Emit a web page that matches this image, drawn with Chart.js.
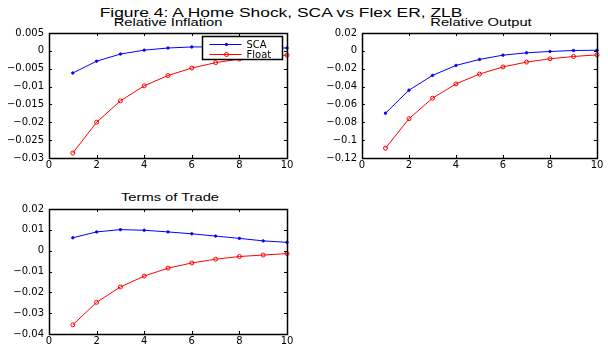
<!DOCTYPE html>
<html lang="en">
<head>
<meta charset="UTF-8">
<title>Figure 4: A Home Shock, SCA vs Flex ER, ZLB</title>
<script src="https://cdn.jsdelivr.net/npm/chart.js"></script>
<style>
  body { margin:0; background:#fff; width:608px; height:347px; position:relative; overflow:hidden;
         font-family:"Liberation Sans", Arial, sans-serif; color:#000; }
  .ttl { position:absolute; width:400px; text-align:center; white-space:nowrap; transform-origin:50% 50%; }
  canvas { position:absolute; }
</style>
</head>
<body>
<div class="ttl" style="left:81px; top:6.5px; font-size:12px; line-height:12px; transform:scaleX(1.45)">Figure 4: A Home Shock, SCA vs Flex ER, ZLB</div>
<div class="ttl" style="left:-32px; top:17.8px; font-size:10px; line-height:10px; transform:scaleX(1.47)">Relative Inflation</div>
<div class="ttl" style="left:281px; top:17.8px; font-size:10px; line-height:10px; transform:scaleX(1.47)">Relative Output</div>
<div class="ttl" style="left:-30px; top:193.2px; font-size:10px; line-height:10px; transform:scaleX(1.47)">Terms of Trade</div>

<canvas id="c1"></canvas>
<canvas id="c2"></canvas>
<canvas id="c3"></canvas>

<script>
// horizon (quarters)
var periods = [1, 2, 3, 4, 5, 6, 7, 8, 9, 10];
var xTicks = [0, 2, 4, 6, 8, 10];
var seriesNames = ['SCA', 'Float'];

// Relative Inflation
var inflSCA   = [-0.0062, -0.0029, -0.0009, 0.0002, 0.0008, 0.0011, 0.0011, 0.0010, 0.0009, 0.0008];
var inflFloat = [-0.0286, -0.0200, -0.0140, -0.0098, -0.0069, -0.0048, -0.0033, -0.0023, -0.0016, -0.0012];
var inflTicks = [0.005, 0, -0.005, -0.01, -0.015, -0.02, -0.025, -0.03];

// Relative Output
var outSCA   = [-0.0698, -0.0440, -0.0275, -0.0163, -0.0096, -0.0048, -0.0022, -0.0007, 0.0004, 0.0007];
var outFloat = [-0.109, -0.076, -0.053, -0.037, -0.026, -0.018, -0.0126, -0.0089, -0.0063, -0.0045];
var outTicks = [0.02, 0, -0.02, -0.04, -0.06, -0.08, -0.1, -0.12];

// Terms of Trade
var totSCA   = [0.0062, 0.0090, 0.0101, 0.0098, 0.0090, 0.0081, 0.0070, 0.0059, 0.0047, 0.0040];
var totFloat = [-0.0356, -0.0248, -0.0174, -0.0122, -0.0084, -0.0059, -0.0041, -0.0028, -0.0021, -0.0014];
var totTicks = [0.02, 0.01, 0, -0.01, -0.02, -0.03, -0.04];

var tickFont = { family: 'DejaVu Sans', size: 10 };

function fmt(v) {
    if (v === 0) return '0';
    return (v < 0 ? '\u2212' : '') + String(Math.abs(v));
}

// matlab style box with inward ticks, plus legend inside the axes
var matlabAxes = {
    id: 'matlabAxes',
    afterDraw: function (chart, args, opts) {
        var ctx = chart.ctx, a = chart.chartArea;
        var x = chart.scales.x, y = chart.scales.y;
        ctx.save();
        ctx.strokeStyle = '#000';
        ctx.lineWidth = 1;
        ctx.beginPath();
        x.ticks.forEach(function (t) {
            var px = Math.round(x.getPixelForValue(t.value)) + 0.5;
            ctx.moveTo(px, a.bottom); ctx.lineTo(px, a.bottom - 3);
            ctx.moveTo(px, a.top); ctx.lineTo(px, a.top + 3);
        });
        y.ticks.forEach(function (t) {
            var py = Math.round(y.getPixelForValue(t.value)) + 0.5;
            ctx.moveTo(a.left, py); ctx.lineTo(a.left + 3, py);
            ctx.moveTo(a.right, py); ctx.lineTo(a.right - 3, py);
        });
        ctx.stroke();
        ctx.lineWidth = 1.5;
        ctx.strokeRect(a.left + 0.5, a.top + 0.5, a.right - a.left, a.bottom - a.top);

        if (opts.legend) {
            var bw = 80, bh = 23;
            var bx = a.right - 5 - bw + 0.5, by = a.top + 3.5;
            ctx.fillStyle = '#fff';
            ctx.fillRect(bx, by, bw, bh);
            ctx.strokeRect(bx, by, bw, bh);
            ctx.lineWidth = 1;
            ctx.font = '10px "DejaVu Sans"';
            ctx.textBaseline = 'middle';
            chart.data.datasets.forEach(function (ds, i) {
                var ly = Math.round(by + 7) + 0.5 + i * 10;
                ctx.strokeStyle = ds.borderColor;
                ctx.beginPath();
                ctx.moveTo(bx + 7, ly); ctx.lineTo(bx + 39, ly);
                ctx.stroke();
                ctx.beginPath();
                ctx.arc(bx + 24, ly, ds.pointRadius, 0, Math.PI * 2);
                if (ds.pointBackgroundColor !== 'rgba(0,0,0,0)') { ctx.fillStyle = ds.pointBackgroundColor; ctx.fill(); }
                ctx.stroke();
                ctx.fillStyle = '#000';
                ctx.fillText(ds.label, bx + 44, ly + 0.5);
            });
        }
        ctx.restore();
    }
};

function toPoints(vals) {
    return vals.map(function (v, i) { return { x: periods[i], y: v }; });
}

function makePanel(id, plot, sca, flt, yTicks, withLegend) {
    var cv = document.getElementById(id);
    var left = plot.left - 49, top = plot.top - 10;
    var w = Math.min(plot.right - left + 10, 608 - left), h = plot.bottom - top + 20;
    cv.width = w; cv.height = h;
    cv.style.width = w + 'px'; cv.style.height = h + 'px';
    cv.style.left = left + 'px'; cv.style.top = top + 'px';

    new Chart(cv.getContext('2d'), {
        type: 'line',
        data: {
            datasets: [{
                label: seriesNames[0],
                data: toPoints(sca),
                borderColor: '#0000ff',
                borderWidth: 1,
                pointRadius: 1.2,
                pointBackgroundColor: '#0000ff',
                pointBorderColor: '#0000ff',
                pointBorderWidth: 1,
                tension: 0,
                clip: false
            }, {
                label: seriesNames[1],
                data: toPoints(flt),
                borderColor: '#ff0000',
                borderWidth: 1,
                pointRadius: 2,
                pointBackgroundColor: 'rgba(0,0,0,0)',
                pointBorderColor: '#ff0000',
                pointBorderWidth: 1,
                tension: 0,
                clip: false
            }]
        },
        options: {
            responsive: false,
            animation: false,
            layout: { padding: { left: 0, top: 10, right: w - (plot.right - left), bottom: 4 } },
            plugins: {
                legend: { display: false },
                tooltip: { enabled: false },
                matlabAxes: { legend: withLegend }
            },
            scales: {
                x: {
                    type: 'linear',
                    min: 0, max: 10,
                    afterBuildTicks: function (ax) { ax.ticks = xTicks.map(function (v) { return { value: v }; }); },
                    afterFit: function (ax) { ax.height = 16; ax.paddingLeft = 0; ax.paddingRight = 0; },
                    grid: { display: false, drawTicks: false },
                    border: { display: false },
                    ticks: { autoSkip: false, maxRotation: 0, padding: 1, color: '#000', font: tickFont, callback: fmt }
                },
                y: {
                    min: Math.min.apply(null, yTicks),
                    max: Math.max.apply(null, yTicks),
                    afterBuildTicks: function (ax) { ax.ticks = yTicks.map(function (v) { return { value: v }; }); },
                    afterFit: function (ax) { ax.width = 49; ax.paddingTop = 0; ax.paddingBottom = 0; },
                    grid: { display: false, drawTicks: false },
                    border: { display: false },
                    ticks: { autoSkip: false, padding: 5, color: '#000', font: tickFont, callback: fmt }
                }
            }
        },
        plugins: [matlabAxes]
    });
}

makePanel('c1', { left: 49, right: 287, top: 33, bottom: 158 }, inflSCA, inflFloat, inflTicks, true);
makePanel('c2', { left: 362, right: 597, top: 33, bottom: 158 }, outSCA, outFloat, outTicks, false);
makePanel('c3', { left: 49, right: 287, top: 209, bottom: 334 }, totSCA, totFloat, totTicks, false);
</script>
</body>
</html>
